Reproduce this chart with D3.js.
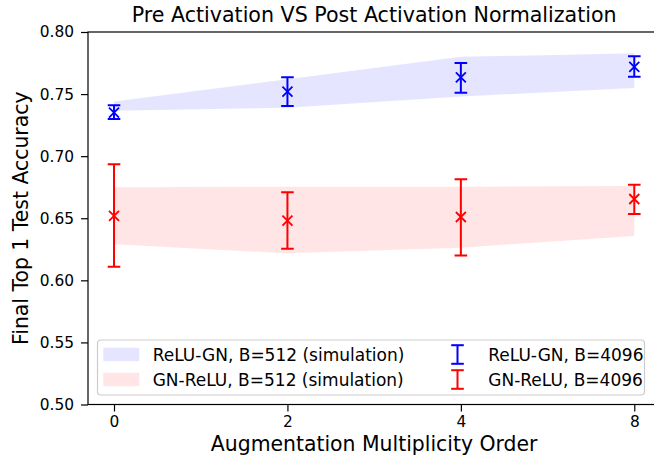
<!DOCTYPE html>
<html>
<head>
    <title>Pre Activation VS Post Activation Normalization</title>
    <script src="https://d3js.org/d3.v7.min.js"></script>
    <style>
        body { margin: 0; background: #fff; }
        svg { display: block; font-family: "DejaVu Sans", sans-serif; }
    </style>
</head>
<body>
    <svg id="chart" width="654" height="456"></svg>

    <script>
        // x positions are evenly spaced categories
        const xLabels = ['0', '2', '4', '8'];
        const yTicks = [0.50, 0.55, 0.60, 0.65, 0.70, 0.75, 0.80];

        // ReLU-GN, B=4096 (error bars)
        const reluGnMean = [0.735, 0.752, 0.7635, 0.772];
        const reluGnLow  = [0.730, 0.7405, 0.751, 0.764];
        const reluGnHigh = [0.741, 0.7635, 0.775, 0.7805];
        // ReLU-GN, B=512 simulation band
        const reluGnBandLow  = [0.7366, 0.739, 0.748, 0.755];
        const reluGnBandHigh = [0.744, 0.762, 0.780, 0.7828];

        // GN-ReLU, B=4096 (error bars)
        const gnReluMean = [0.652, 0.648, 0.651, 0.6655];
        const gnReluLow  = [0.611, 0.6255, 0.620, 0.6535];
        const gnReluHigh = [0.6935, 0.671, 0.6815, 0.677];
        // GN-ReLU, B=512 simulation band
        const gnReluBandLow  = [0.629, 0.6218, 0.6263, 0.6357];
        const gnReluBandHigh = [0.6749, 0.6754, 0.6754, 0.676];

        const svg = d3.select('#chart');
        const margin = { left: 88, right: 660.3, top: 32, bottom: 404.5 };

        const x = d3.scaleLinear()
            .domain([-0.15, xLabels.length - 1 + 0.15])
            .range([margin.left, margin.right]);
        const y = d3.scaleLinear()
            .domain([0.5, 0.8])
            .range([margin.bottom, margin.top]);

        // clip to axes box
        svg.append('clipPath').attr('id', 'plotClip')
            .append('rect')
            .attr('x', margin.left).attr('y', margin.top)
            .attr('width', margin.right - margin.left)
            .attr('height', margin.bottom - margin.top);

        const plot = svg.append('g').attr('clip-path', 'url(#plotClip)');

        // bands
        function drawBand(lo, hi, color) {
            const area = d3.area()
                .x((d, i) => x(i))
                .y0((d, i) => y(lo[i]))
                .y1((d, i) => y(hi[i]));
            plot.append('path')
                .datum(lo)
                .attr('d', area)
                .attr('fill', color)
                .attr('fill-opacity', 0.1);
        }
        drawBand(reluGnBandLow, reluGnBandHigh, '#0000ff');
        drawBand(gnReluBandLow, gnReluBandHigh, '#ff0000');

        // error bars with x markers
        function drawErrors(mean, lo, hi, color) {
            const g = plot.append('g')
                .attr('stroke', color)
                .attr('fill', 'none')
                .attr('stroke-width', 2);
            const cap = 6.3;
            mean.forEach((m, i) => {
                const cx = x(i);
                g.append('line')
                    .attr('x1', cx).attr('x2', cx)
                    .attr('y1', y(lo[i])).attr('y2', y(hi[i]));
                [lo[i], hi[i]].forEach(v => {
                    g.append('line')
                        .attr('x1', cx - cap).attr('x2', cx + cap)
                        .attr('y1', y(v)).attr('y2', y(v));
                });
                const cy = y(m);
                const s = 5;
                g.append('path')
                    .attr('d', `M${cx - s},${cy - s}L${cx + s},${cy + s}M${cx - s},${cy + s}L${cx + s},${cy - s}`)
                    .attr('stroke-width', 1.8);
            });
        }
        drawErrors(reluGnMean, reluGnLow, reluGnHigh, '#0000ff');
        drawErrors(gnReluMean, gnReluLow, gnReluHigh, '#ff0000');

        // axes
        const xAxis = d3.axisBottom(x)
            .tickValues(d3.range(xLabels.length))
            .tickFormat(i => xLabels[i])
            .tickSize(7)
            .tickPadding(5);
        const gx = svg.append('g')
            .attr('transform', `translate(0,${margin.bottom})`)
            .call(xAxis);

        const yAxis = d3.axisLeft(y)
            .tickValues(yTicks)
            .tickFormat(d3.format('.2f'))
            .tickSize(7)
            .tickPadding(7);
        const gy = svg.append('g')
            .attr('transform', `translate(${margin.left},0)`)
            .call(yAxis);

        [gx, gy].forEach(g => {
            g.select('.domain').remove();
            g.selectAll('.tick line').attr('stroke', '#000').attr('stroke-width', 1.2);
            g.selectAll('.tick text')
                .attr('fill', '#000')
                .style('font-size', '15.4px')
                .style('font-family', '"DejaVu Sans", sans-serif');
        });

        // spines
        svg.append('rect')
            .attr('x', margin.left).attr('y', margin.top)
            .attr('width', margin.right - margin.left)
            .attr('height', margin.bottom - margin.top)
            .attr('fill', 'none')
            .attr('stroke', '#000')
            .attr('stroke-width', 1.2);

        // title and labels
        svg.append('text')
            .attr('x', (margin.left + margin.right) / 2)
            .attr('y', 21.5)
            .attr('text-anchor', 'middle')
            .style('font-size', '20.6px')
            .text('Pre Activation VS Post Activation Normalization');

        svg.append('text')
            .attr('x', (margin.left + margin.right) / 2)
            .attr('y', 450.5)
            .attr('text-anchor', 'middle')
            .style('font-size', '20.4px')
            .text('Augmentation Multiplicity Order');

        svg.append('text')
            .attr('transform', `translate(27.5,${(margin.top + margin.bottom) / 2}) rotate(-90)`)
            .attr('text-anchor', 'middle')
            .style('font-size', '20.4px')
            .text('Final Top 1 Test Accuracy');

        // legend
        const legend = svg.append('g');
        legend.append('rect')
            .attr('x', 97.5).attr('y', 340)
            .attr('width', 547).attr('height', 55)
            .attr('rx', 3.5)
            .attr('fill', '#fff').attr('fill-opacity', 0.8)
            .attr('stroke', '#cccccc').attr('stroke-width', 1.2);

        const bandItems = [
            { label: 'ReLU-GN, B=512 (simulation)', color: '#0000ff' },
            { label: 'GN-ReLU, B=512 (simulation)', color: '#ff0000' }
        ];
        const barItems = [
            { label: 'ReLU-GN, B=4096', color: '#0000ff' },
            { label: 'GN-ReLU, B=4096', color: '#ff0000' }
        ];
        const rowY = [354.5, 379.5];

        bandItems.forEach((d, i) => {
            legend.append('rect')
                .attr('x', 103.3).attr('y', rowY[i] - 6.7)
                .attr('width', 36).attr('height', 13.4)
                .attr('fill', d.color).attr('fill-opacity', 0.1);
            legend.append('text')
                .attr('x', 152.7).attr('y', rowY[i] + 6)
                .style('font-size', '17px')
                .text(d.label);
        });

        barItems.forEach((d, i) => {
            const cx = 457.5, h = 9.3, c = 6.3;
            const g = legend.append('g').attr('stroke', d.color).attr('stroke-width', 2);
            g.append('line').attr('x1', cx).attr('x2', cx).attr('y1', rowY[i] - h).attr('y2', rowY[i] + h);
            g.append('line').attr('x1', cx - c).attr('x2', cx + c).attr('y1', rowY[i] - h).attr('y2', rowY[i] - h);
            g.append('line').attr('x1', cx - c).attr('x2', cx + c).attr('y1', rowY[i] + h).attr('y2', rowY[i] + h);
            legend.append('text')
                .attr('x', 488.3).attr('y', rowY[i] + 6)
                .style('font-size', '17px')
                .text(d.label);
        });
    </script>
</body>
</html>
